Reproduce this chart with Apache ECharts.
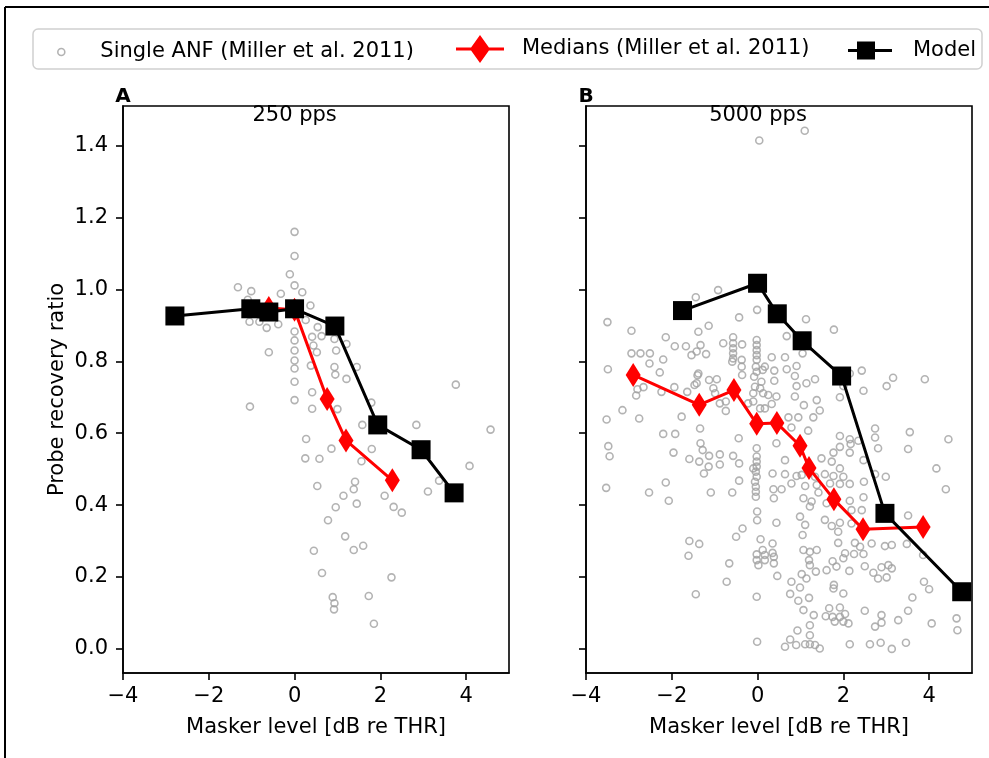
<!DOCTYPE html>
<html><head><meta charset="utf-8">
<script src="https://cdn.jsdelivr.net/npm/echarts@6/dist/echarts.min.js"></script>
<style>html,body{margin:0;padding:0;background:#fff}#c{width:989px;height:758px}</style>
</head><body><div id="c"></div>
<script>
// ---------------- data ----------------
const xTicks = [-4, -2, 0, 2, 4];
const yTicks = [0, 0.2, 0.4, 0.6, 0.8, 1.0, 1.2, 1.4];
const panelTitles = ['250 pps', '5000 pps'];
const panelLetters = ['A', 'B'];
const seriesNames = ['Single ANF (Miller et al. 2011)', 'Medians (Miller et al. 2011)', 'Model'];
const xAxisName = 'Masker level [dB re THR]';
const yAxisName = 'Probe recovery ratio';

const anfA = [
[0.00,1.160],[0.00,1.093],[-0.11,1.042],[0.00,1.011],[0.18,0.992],[-1.32,1.006],[-1.01,0.995],[-0.32,0.988],[-1.09,0.971],[0.37,0.955],
[-1.05,0.910],[-0.82,0.910],[-0.65,0.893],[-0.38,0.903],[0.26,0.915],[0.54,0.895],[0.63,0.870],[0.41,0.868],[0.00,0.883],[0.00,0.858],
[0.44,0.844],[0.52,0.825],[0.00,0.830],[0.93,0.862],[1.21,0.848],[0.97,0.830],[-0.60,0.825],[0.00,0.802],[0.00,0.780],[0.38,0.788],
[0.93,0.784],[0.95,0.763],[1.45,0.784],[1.21,0.751],[0.00,0.743],[0.00,0.692],[0.41,0.714],[0.41,0.668],[1.00,0.667],[-1.04,0.674],
[1.79,0.685],[3.76,0.735],[1.58,0.623],[2.84,0.623],[4.57,0.610],[0.27,0.584],[0.86,0.557],[1.80,0.556],[0.25,0.530],[0.58,0.529],
[1.56,0.522],[4.08,0.509],[1.41,0.465],[1.38,0.444],[0.53,0.453],[1.14,0.426],[1.45,0.404],[0.96,0.394],[0.78,0.358],[2.10,0.426],
[2.31,0.395],[2.50,0.379],[3.37,0.468],[3.11,0.438],[1.18,0.313],[0.45,0.273],[1.38,0.275],[1.60,0.287],[0.64,0.211],[2.26,0.199],
[0.89,0.144],[0.93,0.127],[0.92,0.110],[1.73,0.147],[1.85,0.070]
];

const anfB = [
[0.04,1.414],[1.10,1.441],[-1.44,0.978],[-0.92,0.998],[-0.01,0.943],[-0.43,0.922],[-3.50,0.909],[-1.14,0.899],[1.13,0.917],[1.78,0.888],
[-2.94,0.885],[-1.38,0.882],[-2.14,0.867],[-1.93,0.842],[-1.67,0.842],[-1.33,0.845],[-1.54,0.817],[-1.42,0.827],[-1.20,0.820],[-0.80,0.850],
[-0.57,0.867],[-0.57,0.850],[-0.57,0.836],[-0.57,0.822],[-0.57,0.808],[-0.59,0.799],[-0.36,0.847],[-0.37,0.804],[-0.37,0.785],[-0.36,0.762],
[-0.02,0.859],[-0.02,0.845],[-0.02,0.831],[-0.02,0.817],[-0.02,0.804],[-0.04,0.785],[-0.08,0.757],[-0.02,0.771],[0.12,0.776],[0.17,0.785],
[0.33,0.811],[0.39,0.774],[0.39,0.746],[0.09,0.743],[0.06,0.725],[-0.06,0.729],[-0.10,0.711],[0.13,0.711],[-0.10,0.688],[-0.22,0.683],
[0.06,0.669],[0.17,0.669],[0.33,0.681],[0.25,0.706],[0.44,0.702],[-2.94,0.822],[-2.73,0.822],[-2.51,0.822],[-2.52,0.794],[-2.20,0.805],
[-2.28,0.769],[-3.49,0.778],[-2.66,0.728],[-2.80,0.722],[-2.83,0.705],[-2.24,0.715],[-1.94,0.728],[-1.64,0.715],[-1.47,0.734],[-1.42,0.739],
[-1.38,0.766],[-1.40,0.761],[-1.13,0.748],[-0.95,0.750],[-1.03,0.725],[-0.99,0.711],[-0.88,0.683],[-0.74,0.688],[-0.74,0.662],[-3.15,0.664],
[-3.52,0.638],[-2.76,0.641],[-1.77,0.646],[-1.34,0.613],[-2.20,0.598],[-1.92,0.598],[-0.44,0.586],[-3.48,0.564],[-3.45,0.536],[-1.96,0.546],
[-1.59,0.528],[-1.36,0.521],[-1.33,0.572],[-1.28,0.553],[-1.13,0.537],[-1.14,0.507],[-0.88,0.541],[-0.88,0.513],[-1.25,0.488],[-0.57,0.537],
[-0.43,0.516],[-0.43,0.468],[-0.59,0.435],[-1.09,0.435],[-3.53,0.448],[-2.53,0.435],[-2.14,0.463],[-2.07,0.412],[-0.02,0.558],[-0.02,0.535],
[-0.02,0.521],[-0.02,0.507],[-0.10,0.502],[-0.04,0.493],[-0.02,0.479],[-0.06,0.465],[-0.04,0.451],[-0.04,0.437],[-0.04,0.423],[-0.01,0.382],
[-0.01,0.358],[0.44,0.572],[0.35,0.488],[0.37,0.444],[0.38,0.419],[0.44,0.351],[-0.35,0.335],
[-0.50,0.312],[-1.59,0.300],[-1.36,0.292],[-1.61,0.259],[-0.66,0.238],[0.07,0.305],[0.35,0.293],[0.12,0.275],[-0.02,0.263],[0.17,0.261],
[0.35,0.267],[0.38,0.256],[-0.02,0.247],[0.17,0.247],[0.02,0.233],[0.38,0.238],[0.46,0.203],[-0.72,0.187],[-1.44,0.152],[-0.02,0.145],
[-0.01,0.020],
[0.68,0.870],[0.64,0.811],[1.05,0.822],[0.68,0.778],[0.91,0.787],[0.87,0.759],[1.14,0.739],[1.34,0.750],[0.91,0.731],[0.87,0.702],
[1.38,0.692],[1.08,0.678],[1.30,0.644],[1.45,0.663],[0.72,0.644],[0.95,0.644],[0.79,0.616],[1.18,0.607],[1.92,0.700],[2.00,0.731],
[2.43,0.774],[2.15,0.766],[2.47,0.718],[3.01,0.731],[3.16,0.754],[3.90,0.750],[1.92,0.592],[2.15,0.583],[2.17,0.570],[2.35,0.579],
[2.74,0.613],[2.74,0.588],[2.81,0.558],[3.51,0.556],[3.55,0.603],[4.45,0.583],[1.92,0.562],[1.77,0.546],[2.15,0.546],[1.49,0.530],
[1.73,0.521],[0.64,0.525],[0.64,0.486],[0.79,0.460],[0.91,0.481],[1.03,0.484],[1.34,0.479],[1.57,0.486],[1.77,0.481],[1.92,0.502],
[2.00,0.479],[1.38,0.456],[1.69,0.460],[1.92,0.459],[2.15,0.459],[2.47,0.525],[2.74,0.486],[2.99,0.479],[2.48,0.465],[0.56,0.444],
[1.11,0.453],[1.42,0.435],[1.07,0.419],[1.26,0.410],[1.22,0.396],[1.61,0.405],[2.15,0.412],[2.47,0.422],[2.43,0.386],[2.19,0.386],
[0.99,0.368],[1.11,0.345],[1.57,0.359],[1.73,0.342],[1.92,0.351],[3.51,0.371],[4.17,0.502],[4.39,0.444],
[1.88,0.326],[1.05,0.317],[2.19,0.349],[1.07,0.275],[1.22,0.270],[1.38,0.275],[1.20,0.247],[1.22,0.233],[1.88,0.295],[2.27,0.295],
[2.39,0.284],[2.66,0.293],[2.97,0.286],[3.13,0.289],[3.48,0.292],[2.04,0.266],[2.25,0.264],[2.47,0.264],[2.00,0.252],[1.75,0.244],
[1.84,0.229],[1.61,0.219],[1.36,0.215],[2.14,0.217],[2.50,0.230],[2.70,0.212],[2.81,0.196],[2.89,0.227],[3.05,0.233],[3.13,0.224],
[3.01,0.199],[1.03,0.208],[1.14,0.196],[0.79,0.187],[0.99,0.171],[1.77,0.168],[1.78,0.178],[2.00,0.154],[0.76,0.153],[0.95,0.134],
[1.20,0.142],[1.07,0.108],[1.31,0.094],[1.67,0.113],[1.92,0.115],[1.59,0.091],[1.75,0.089],[1.80,0.076],[1.92,0.089],[2.00,0.076],
[2.12,0.071],[2.04,0.097],[2.50,0.106],[2.89,0.094],[2.89,0.073],[2.74,0.062],[3.28,0.080],[3.51,0.106],[3.61,0.143],[3.88,0.187],
[4.00,0.166],[4.06,0.071],[4.64,0.085],[4.66,0.052],[1.22,0.066],[1.22,0.038],[0.93,0.051],[0.76,0.026],[0.64,0.006],[0.90,0.011],
[1.11,0.013],[1.22,0.013],[1.34,0.011],[1.45,0.001],[2.15,0.013],[2.62,0.013],[2.87,0.017],[3.13,0.000],[3.46,0.017],[3.86,0.261]
];

const mediansA = [[-0.60,0.948],[0.00,0.943],[0.76,0.695],[1.20,0.580],[2.28,0.469]];
const mediansB = [[-2.90,0.762],[-1.36,0.679],[-0.55,0.720],[-0.02,0.626],[0.45,0.628],[0.99,0.565],[1.20,0.503],[1.78,0.416],[2.46,0.333],[3.86,0.339]];
const modelA = [[-2.79,0.926],[-1.02,0.946],[-0.60,0.937],[0.00,0.946],[0.94,0.898],[1.94,0.623],[2.95,0.554],[3.72,0.434]];
const modelB = [[-1.75,0.941],[0.00,1.017],[0.46,0.932],[1.04,0.857],[1.96,0.759],[2.97,0.377],[4.76,0.159]];

// ---------------- styles / layout ----------------
const FONT = 'DejaVu Sans';
const FS = 21;
const GREY = '#a0a0a0';
const RED = '#ff0000';
const grids = [
  {left: 123, top: 106, width: 386, height: 567, show: true, borderColor: '#000', borderWidth: 1.6},
  {left: 586, top: 106, width: 386, height: 567, show: true, borderColor: '#000', borderWidth: 1.6}
];
const X_MIN = -4, X_MAX = 5, Y_MIN = -0.067, Y_MAX = 1.51;
const minus = v => String(v).replace('-', '\u2212');

const xAxes = [0, 1].map(i => ({
  type: 'value', gridIndex: i, min: X_MIN, max: X_MAX,
  splitLine: {show: false},
  axisLine: {onZero: false, lineStyle: {color: '#000', width: 1.6}},
  axisTick: {length: 7, lineStyle: {color: '#000', width: 1.6}, customValues: xTicks},
  axisLabel: {customValues: xTicks, formatter: minus, fontSize: FS, fontFamily: FONT, color: '#000', margin: 13},
  name: xAxisName, nameLocation: 'middle', nameGap: 44,
  nameTextStyle: {fontSize: FS, fontFamily: FONT, color: '#000'}
}));
const yAxes = [0, 1].map(i => ({
  type: 'value', gridIndex: i, min: Y_MIN, max: Y_MAX,
  splitLine: {show: false},
  axisLine: {onZero: false, lineStyle: {color: '#000', width: 1.6}},
  axisTick: {length: 7, lineStyle: {color: '#000', width: 1.6}, customValues: yTicks},
  axisLabel: {show: i === 0, customValues: yTicks, formatter: v => v.toFixed(1), fontSize: FS, fontFamily: FONT, color: '#000', margin: 15},
  name: i === 0 ? yAxisName : '', nameLocation: 'middle', nameGap: 55, nameRotate: 90,
  nameTextStyle: {fontSize: FS, fontFamily: FONT, color: '#000'}
}));

const anfData = [anfA, anfB], medData = [mediansA, mediansB], modData = [modelA, modelB];
const series = [];
[0, 1].forEach(i => {
  series.push({
    name: seriesNames[0], type: 'scatter', xAxisIndex: i, yAxisIndex: i, data: anfData[i],
    symbol: 'circle', symbolSize: 7, z: 2,
    itemStyle: {color: 'rgba(255,255,255,0)', borderColor: GREY, borderWidth: 1.6}
  });
  series.push({
    name: seriesNames[1], type: 'line', xAxisIndex: i, yAxisIndex: i, data: medData[i],
    symbol: 'diamond', symbolSize: [15, 24], showSymbol: true, z: 3,
    lineStyle: {color: RED, width: 3}, itemStyle: {color: RED}
  });
  series.push({
    name: seriesNames[2], type: 'line', xAxisIndex: i, yAxisIndex: i, data: modData[i],
    symbol: 'rect', symbolSize: 19, showSymbol: true, z: 4,
    lineStyle: {color: '#000', width: 3}, itemStyle: {color: '#000'}
  });
});

const legendText = pad => ({fontSize: FS, fontFamily: FONT, color: '#000', padding: [0, 0, 0, pad]});
const legends = [
  {left: 57, top: 41.5, itemWidth: 42, itemHeight: 7, padding: 0, z: 10,
   data: [{name: seriesNames[0], icon: 'circle', itemStyle: {color: 'rgba(255,255,255,0)', borderColor: GREY, borderWidth: 1.6}}],
   textStyle: legendText(13), selectedMode: false},
  {left: 456, top: 35, itemWidth: 48, itemHeight: 28, padding: 0, z: 10,
   data: [{name: seriesNames[1], icon: 'path://M0,12.5H48V15.5H0Z M24,0L34,14L24,28L14,14Z', itemStyle: {color: RED}}],
   textStyle: legendText(13), selectedMode: false},
  {left: 848, top: 40, itemWidth: 44, itemHeight: 18, padding: 0, z: 10,
   data: [{name: seriesNames[2], icon: 'path://M0,7.5H44V10.5H0Z M9,0H27V18H9Z', itemStyle: {color: '#000'}}],
   textStyle: legendText(16), selectedMode: false}
];

const graphic = [
  {type: 'line', shape: {x1: 5, y1: 7, x2: 989, y2: 7}, style: {stroke: '#000', lineWidth: 2}, z: 0},
  {type: 'line', shape: {x1: 5, y1: 7, x2: 5, y2: 758}, style: {stroke: '#000', lineWidth: 2}, z: 0},
  {type: 'rect', shape: {x: 33, y: 29, width: 949, height: 40, r: 5}, style: {fill: '#fff', stroke: '#d0d0d0', lineWidth: 1.5}, z: 1},
  {type: 'text', x: 294.6, y: 116, style: {text: panelTitles[0], font: FS + 'px "' + FONT + '"', fill: '#000', align: 'center', verticalAlign: 'middle'}, z: 5},
  {type: 'text', x: 758, y: 116, style: {text: panelTitles[1], font: FS + 'px "' + FONT + '"', fill: '#000', align: 'center', verticalAlign: 'middle'}, z: 5},
  {type: 'text', x: 123, y: 97, style: {text: panelLetters[0], font: 'bold 20px "' + FONT + '"', fill: '#000', align: 'center', verticalAlign: 'middle'}, z: 5},
  {type: 'text', x: 586, y: 97, style: {text: panelLetters[1], font: 'bold 20px "' + FONT + '"', fill: '#000', align: 'center', verticalAlign: 'middle'}, z: 5}
];

const chart = echarts.init(document.getElementById('c'), null, {renderer: 'canvas'});
chart.setOption({
  animation: false,
  backgroundColor: '#fff',
  grid: grids,
  xAxis: xAxes,
  yAxis: yAxes,
  legend: legends,
  series: series,
  graphic: graphic
});
</script></body></html>
